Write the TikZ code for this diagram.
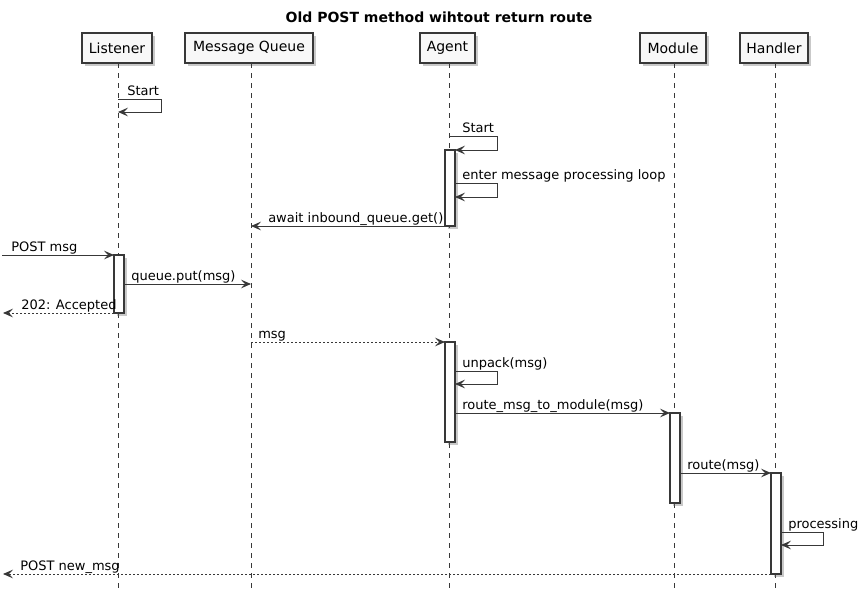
\documentclass[tikz,border=0pt]{standalone}
\usepackage{fontspec}
\setmainfont{DejaVu Sans}
\usetikzlibrary{arrows.meta,shadows}
\definecolor{ink}{HTML}{383838}
\definecolor{boxfill}{HTML}{F8F8F8}
\begin{document}
\begin{tikzpicture}[x=0.75pt,y=-0.75pt,
  part/.style={draw=ink, fill=boxfill, line width=0.8pt, minimum height=22.5pt, inner sep=0pt, outer sep=0pt,
    font=\fontsize{10.5}{12}\selectfont,
    drop shadow={shadow xshift=2.5pt, shadow yshift=-2.5pt, opacity=0.35, fill=black!60}},
  act/.style={draw=ink, fill=white, line width=0.8pt, minimum width=7.5pt, inner sep=0pt, outer sep=0pt, anchor=north,
    drop shadow={shadow xshift=2pt, shadow yshift=-2pt, opacity=0.35, fill=black!60}},
  life/.style={draw=ink, line width=0.6pt, dash pattern=on 3.75pt off 3.75pt},
  msg/.style={draw=ink, line width=0.75pt, -{Stealth[length=7.5pt, width=6.5pt, inset=3pt]}},
  ret/.style={msg, dash pattern=on 1.5pt off 1.5pt},
  lbl/.style={anchor=base west, inner sep=0pt, font=\fontsize{9.75}{11}\selectfont},
  ttl/.style={anchor=base, inner sep=0pt, font=\bfseries\fontsize{10.5}{12}\selectfont}
]
\useasboundingbox (0,0) rectangle (868,603);
\fill[white] (0,0) rectangle (868,603);

\node[ttl] (title) at (439,22) {Old POST method wihtout return route};

% participants
\node[part, minimum width=52.5pt] (pL) at (117,48) {Listener};
\node[part, minimum width=96pt] (pQ) at (249,48) {Message Queue};
\node[part, minimum width=41.25pt] (pA) at (447.5,48) {Agent};
\node[part, minimum width=49.5pt] (pM) at (673,48) {Module};
\node[part, minimum width=51pt] (pH) at (774,48) {Handler};

% lifelines
\coordinate (eL) at (118,592);
\coordinate (eQ) at (251,592);
\coordinate (eA) at (449,592);
\coordinate (eM) at (674,592);
\coordinate (eH) at (775,592);
\draw[life] (118,63) -- (eL);
\draw[life] (251,63) -- (eQ);
\draw[life] (449,63) -- (eA);
\draw[life] (674,63) -- (eM);
\draw[life] (775,63) -- (eH);

% activations
\node[act, minimum height=57pt] (aA1) at (450,150) {};
\node[act, minimum height=43.5pt] (aL) at (119,255) {};
\node[act, minimum height=75pt] (aA2) at (450,342) {};
\node[act, minimum height=67.5pt] (aM) at (675,413) {};
\node[act, minimum height=75.75pt] (aH) at (776,473) {};

% 1 Listener self Start
\coordinate (s1a) at (118,99);
\coordinate (s1b) at (161,99);
\coordinate (s1c) at (161,112);
\coordinate (s1d) at (118,112);
\draw[msg] (s1a) -- (s1b) -- (s1c) -- (s1d);
\node[lbl] (t1) at (127,95) {Start};

% 2 Agent self Start
\coordinate (s2a) at (449,136);
\coordinate (s2b) at (497,136);
\coordinate (s2c) at (497,150);
\draw[msg] (s2a) -- (s2b) -- (s2c) -- (aA1.north east);
\node[lbl] (t2) at (462,132) {Start};

% 3 enter loop
\coordinate (s3a) at (455,183);
\coordinate (s3b) at (497,183);
\coordinate (s3c) at (497,197);
\coordinate (s3d) at (455,197);
\draw[msg] (s3a) -- (s3b) -- (s3c) -- (s3d);
\node[lbl] (t3) at (462,179) {enter message processing loop};

% 4 await
\coordinate (q4) at (251,226);
\draw[msg] (aA1.south west) -- (q4);
\node[lbl] (t4) at (268,222) {await inbound\_queue.get()};

% 5 POST msg
\coordinate (in5) at (2,255);
\draw[msg] (in5) -- (aL.north west);
\node[lbl] (t5) at (11,251) {POST msg};

% 6 queue.put
\coordinate (l6) at (124,284);
\coordinate (q6) at (251,284);
\draw[msg] (l6) -- (q6);
\node[lbl] (t6) at (131,280) {queue.put(msg)};

% 7 202 Accepted
\coordinate (out7) at (3,313);
\draw[ret] (aL.south west) -- (out7);
\node[lbl] (t7) at (21,309) {202: Accepted};

% 8 msg
\coordinate (q8) at (251,342);
\draw[ret] (q8) -- (aA2.north west);
\node[lbl] (t8) at (258,338) {msg};

% 9 unpack
\coordinate (s9a) at (455,371);
\coordinate (s9b) at (497,371);
\coordinate (s9c) at (497,384);
\coordinate (s9d) at (455,384);
\draw[msg] (s9a) -- (s9b) -- (s9c) -- (s9d);
\node[lbl] (t9) at (462,367) {unpack(msg)};

% 10 route_msg_to_module
\coordinate (a10) at (455,413);
\draw[msg] (a10) -- (aM.north west);
\node[lbl] (t10) at (462,409) {route\_msg\_to\_module(msg)};

% 11 route
\coordinate (m11) at (680,473);
\draw[msg] (m11) -- (aH.north west);
\node[lbl] (t11) at (687,469) {route(msg)};

% 12 processing
\coordinate (s12a) at (781,532);
\coordinate (s12b) at (823,532);
\coordinate (s12c) at (823,545);
\coordinate (s12d) at (781,545);
\draw[msg] (s12a) -- (s12b) -- (s12c) -- (s12d);
\node[lbl] (t12) at (788,528) {processing};

% 13 POST new_msg
\coordinate (out13) at (3,574);
\draw[ret] (aH.south west) -- (out13);
\node[lbl] (t13) at (20,570) {POST new\_msg};
\end{tikzpicture}
\end{document}
